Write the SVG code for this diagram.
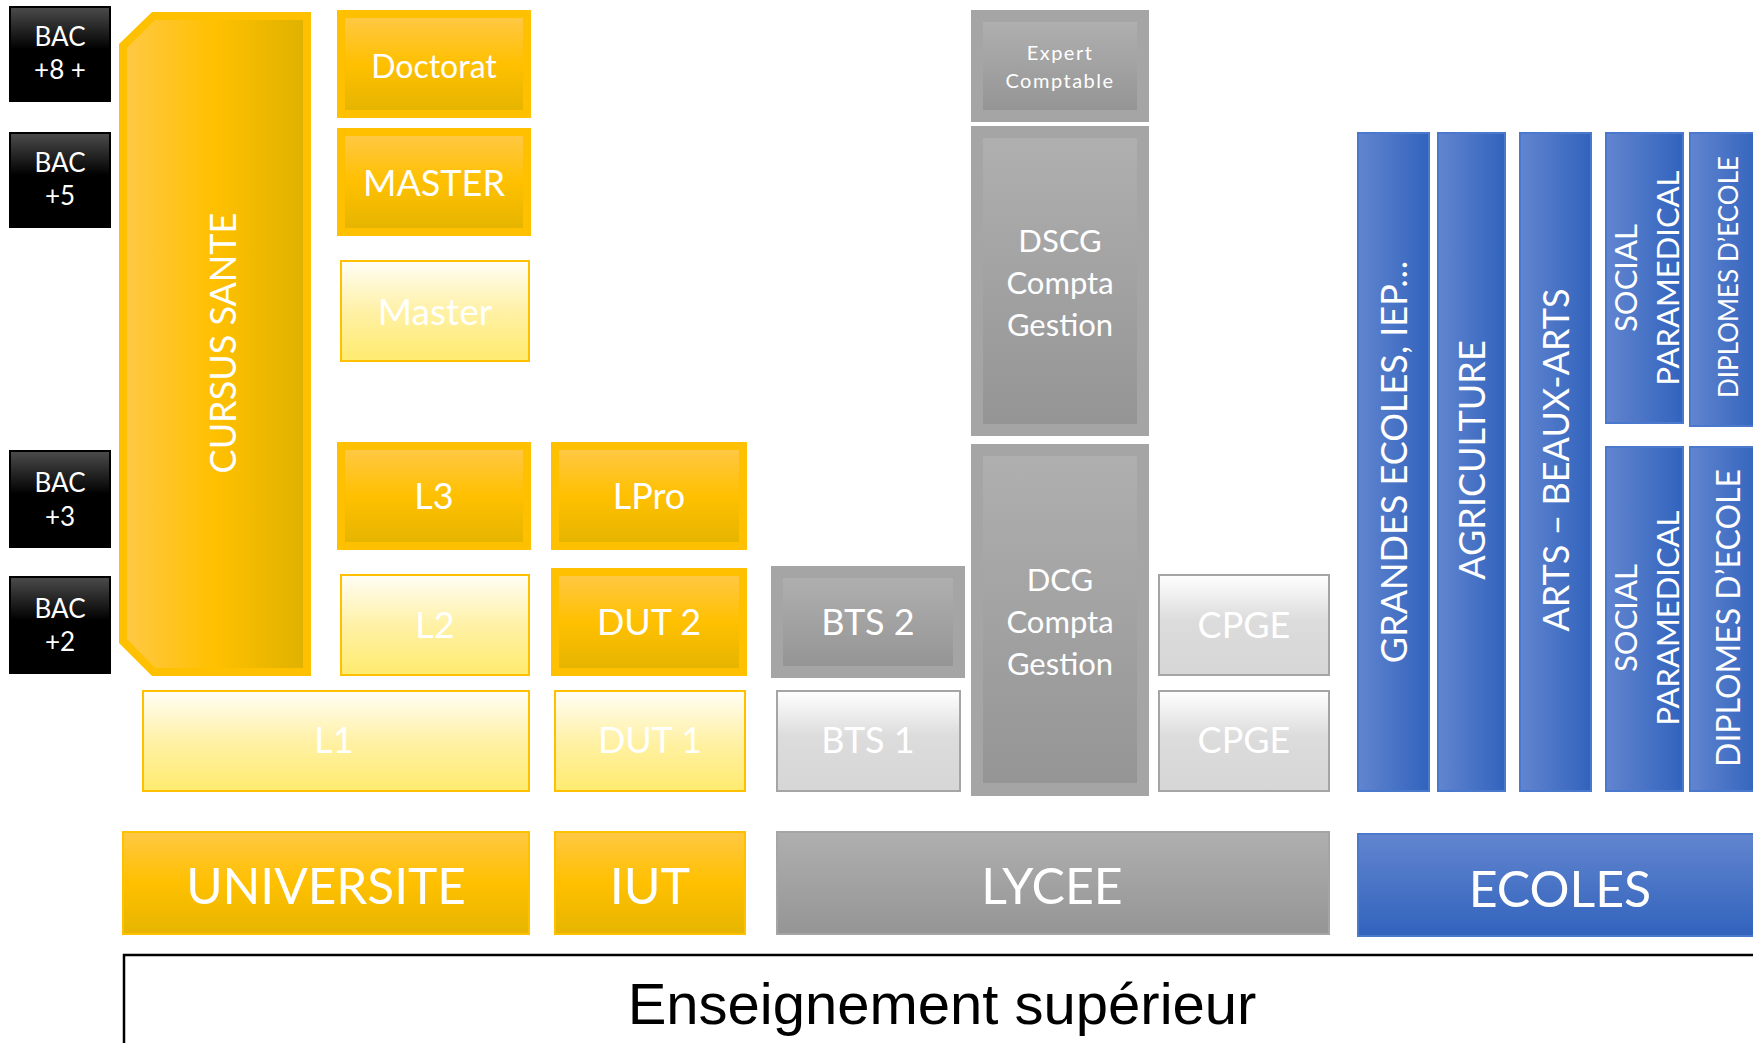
<svg xmlns="http://www.w3.org/2000/svg" width="1753" height="1043" viewBox="0 0 1753 1043">
<style>
  .lbl { font-family: Lato, "Open Sans", "DejaVu Sans", sans-serif; fill: #ffffff; text-anchor: middle; }
  .bac { font-size: 26px; }
  .title { font-family: "Liberation Sans", Arial, sans-serif; font-size: 58px; fill: #000000; text-anchor: middle; }
  .yOut { fill: #FFC000; }
  .yIn { fill: url(#gYellow); }
  .pale { fill: url(#gPale); stroke: #FFC000; stroke-width: 2; }
  .gOut { fill: #A5A5A5; }
  .gIn { fill: url(#gGray); }
  .lgray { fill: url(#gLight); stroke: #A5A5A5; stroke-width: 2; }
  .blue { fill: url(#gBlueH); stroke: #4A78CC; stroke-width: 2; }
  .bacBox { fill: #000000; }
  .bacIn { fill: url(#gBlack); }
</style>
<defs>
  <linearGradient id="gYellow" x1="0" y1="0" x2="0" y2="1">
    <stop offset="0" stop-color="#FFC843"/>
    <stop offset="0.5" stop-color="#FFC000"/>
    <stop offset="1" stop-color="#E6B500"/>
  </linearGradient>
  <linearGradient id="gYellowH" x1="0" y1="0" x2="1" y2="0">
    <stop offset="0" stop-color="#FFC843"/>
    <stop offset="0.5" stop-color="#FFC000"/>
    <stop offset="1" stop-color="#E0B200"/>
  </linearGradient>
  <linearGradient id="gPale" x1="0" y1="0" x2="0" y2="1">
    <stop offset="0" stop-color="#FFFEF6"/>
    <stop offset="0.5" stop-color="#FFF1A6"/>
    <stop offset="1" stop-color="#FFEB6E"/>
  </linearGradient>
  <linearGradient id="gGray" x1="0" y1="0" x2="0" y2="1">
    <stop offset="0" stop-color="#AFAFAF"/>
    <stop offset="1" stop-color="#959595"/>
  </linearGradient>
  <linearGradient id="gLight" x1="0" y1="0" x2="0" y2="1">
    <stop offset="0" stop-color="#FFFFFF"/>
    <stop offset="0.45" stop-color="#DCDCDC"/>
    <stop offset="1" stop-color="#D6D6D6"/>
  </linearGradient>
  <linearGradient id="gBlueH" x1="0" y1="0" x2="1" y2="0">
    <stop offset="0" stop-color="#6285CF"/>
    <stop offset="1" stop-color="#3163BD"/>
  </linearGradient>
  <linearGradient id="gBlueV" x1="0" y1="0" x2="0" y2="1">
    <stop offset="0" stop-color="#6285CF"/>
    <stop offset="1" stop-color="#3163BD"/>
  </linearGradient>
  <linearGradient id="gBlack" x1="0" y1="0" x2="0" y2="1">
    <stop offset="0" stop-color="#4A4A4A"/>
    <stop offset="0.45" stop-color="#000000"/>
    <stop offset="1" stop-color="#000000"/>
  </linearGradient>
</defs>

<!-- level markers -->
<g id="bac8">
  <rect class="bacBox" x="9" y="6" width="102" height="96"/>
  <rect class="bacIn" x="11" y="8" width="98" height="92"/>
  <text class="lbl bac" x="60" y="46">BAC</text>
  <text class="lbl bac" x="60" y="79">+8 +</text>
</g>
<g id="bac5">
  <rect class="bacBox" x="9" y="132" width="102" height="96"/>
  <rect class="bacIn" x="11" y="134" width="98" height="92"/>
  <text class="lbl bac" x="60" y="172">BAC</text>
  <text class="lbl bac" x="60" y="205">+5</text>
</g>
<g id="bac3">
  <rect class="bacBox" x="9" y="450" width="102" height="98"/>
  <rect class="bacIn" x="11" y="452" width="98" height="94"/>
  <text class="lbl bac" x="60" y="492">BAC</text>
  <text class="lbl bac" x="60" y="526">+3</text>
</g>
<g id="bac2">
  <rect class="bacBox" x="9" y="576" width="102" height="98"/>
  <rect class="bacIn" x="11" y="578" width="98" height="94"/>
  <text class="lbl bac" x="60" y="618">BAC</text>
  <text class="lbl bac" x="60" y="651">+2</text>
</g>

<!-- university column -->
<g id="cursus-sante">
  <path class="yOut" d="M152,12 H311 V676 H152 L119,643 V44 Z"/>
  <path fill="url(#gYellowH)" d="M155,20 H303 V668 H155 L127,639 V48 Z"/>
  <text class="lbl" font-size="36" transform="translate(236,343) rotate(-90)">CURSUS SANTE</text>
</g>
<g id="doctorat">
  <rect class="yOut" x="337" y="10" width="194" height="108"/>
  <rect class="yIn" x="345" y="18" width="178" height="92"/>
  <text class="lbl" font-size="32" x="434" y="78">Doctorat</text>
</g>
<g id="master-recherche">
  <rect class="yOut" x="337" y="128" width="194" height="108"/>
  <rect class="yIn" x="345" y="136" width="178" height="92"/>
  <text class="lbl" font-size="36" x="434" y="196">MASTER</text>
</g>
<g id="master">
  <rect class="pale" x="341" y="261" width="188" height="100"/>
  <text class="lbl" font-size="37" x="435" y="325">Master</text>
</g>
<g id="l3">
  <rect class="yOut" x="337" y="442" width="194" height="108"/>
  <rect class="yIn" x="345" y="450" width="178" height="92"/>
  <text class="lbl" font-size="36" x="434" y="509">L3</text>
</g>
<g id="l2">
  <rect class="pale" x="341" y="575" width="188" height="100"/>
  <text class="lbl" font-size="36" x="435" y="638">L2</text>
</g>
<g id="l1">
  <rect class="pale" x="143" y="691" width="386" height="100"/>
  <text class="lbl" font-size="36" x="334" y="753">L1</text>
</g>

<!-- IUT column -->
<g id="lpro">
  <rect class="yOut" x="551" y="442" width="196" height="108"/>
  <rect class="yIn" x="559" y="450" width="180" height="92"/>
  <text class="lbl" font-size="36" x="649" y="509">LPro</text>
</g>
<g id="dut2">
  <rect class="yOut" x="551" y="568" width="196" height="108"/>
  <rect class="yIn" x="559" y="576" width="180" height="92"/>
  <text class="lbl" font-size="36" x="649" y="635">DUT 2</text>
</g>
<g id="dut1">
  <rect class="pale" x="555" y="691" width="190" height="100"/>
  <text class="lbl" font-size="36" x="650" y="753">DUT 1</text>
</g>

<!-- lycée column -->
<g id="bts2">
  <rect class="gOut" x="771" y="566" width="194" height="112"/>
  <rect class="gIn" x="783" y="578" width="170" height="88"/>
  <text class="lbl" font-size="36" x="868" y="635">BTS 2</text>
</g>
<g id="bts1">
  <rect class="lgray" x="777" y="691" width="183" height="100"/>
  <text class="lbl" font-size="36" x="868" y="753">BTS 1</text>
</g>
<g id="expert-comptable">
  <rect class="gOut" x="971" y="10" width="178" height="112"/>
  <rect class="gIn" x="983" y="22" width="154" height="88"/>
  <text class="lbl" font-size="20" letter-spacing="1.5" x="1060" y="60">Expert</text>
  <text class="lbl" font-size="20" letter-spacing="1.5" x="1060" y="88">Comptable</text>
</g>
<g id="dscg">
  <rect class="gOut" x="971" y="126" width="178" height="310"/>
  <rect class="gIn" x="983" y="138" width="154" height="286"/>
  <text class="lbl" font-size="31" x="1060" y="252">DSCG</text>
  <text class="lbl" font-size="31" x="1060" y="294">Compta</text>
  <text class="lbl" font-size="31" x="1060" y="336">Gestion</text>
</g>
<g id="dcg">
  <rect class="gOut" x="971" y="444" width="178" height="352"/>
  <rect class="gIn" x="983" y="456" width="154" height="327"/>
  <text class="lbl" font-size="31" x="1060" y="591">DCG</text>
  <text class="lbl" font-size="31" x="1060" y="633">Compta</text>
  <text class="lbl" font-size="31" x="1060" y="675">Gestion</text>
</g>
<g id="cpge2">
  <rect class="lgray" x="1159" y="575" width="170" height="100"/>
  <text class="lbl" font-size="36" x="1244" y="638">CPGE</text>
</g>
<g id="cpge1">
  <rect class="lgray" x="1159" y="691" width="170" height="100"/>
  <text class="lbl" font-size="36" x="1244" y="753">CPGE</text>
</g>

<!-- schools column -->
<g id="grandes-ecoles">
  <rect class="blue" x="1358" y="133" width="71" height="658"/>
  <text class="lbl" font-size="36" transform="translate(1407,462) rotate(-90)">GRANDES ECOLES, IEP…</text>
</g>
<g id="agriculture">
  <rect class="blue" x="1438" y="133" width="67" height="658"/>
  <text class="lbl" font-size="36" transform="translate(1485,460) rotate(-90)">AGRICULTURE</text>
</g>
<g id="arts">
  <rect class="blue" x="1520" y="133" width="71" height="658"/>
  <text class="lbl" font-size="36" transform="translate(1569,460) rotate(-90)">ARTS – BEAUX-ARTS</text>
</g>
<g id="social-top">
  <rect class="blue" x="1606" y="133" width="77" height="290"/>
  <text class="lbl" font-size="31" transform="translate(1637,278) rotate(-90)">SOCIAL</text>
  <text class="lbl" font-size="31" transform="translate(1679,278) rotate(-90)">PARAMEDICAL</text>
</g>
<g id="diplomes-top">
  <rect class="blue" x="1690" y="133" width="70" height="293"/>
  <text class="lbl" font-size="26" transform="translate(1738,277) rotate(-90)">DIPLOMES D’ECOLE</text>
</g>
<g id="social-bottom">
  <rect class="blue" x="1606" y="447" width="77" height="344"/>
  <text class="lbl" font-size="31" transform="translate(1637,618) rotate(-90)">SOCIAL</text>
  <text class="lbl" font-size="31" transform="translate(1679,618) rotate(-90)">PARAMEDICAL</text>
</g>
<g id="diplomes-bottom">
  <rect class="blue" x="1690" y="447" width="70" height="344"/>
  <text class="lbl" font-size="32" transform="translate(1740,618) rotate(-90)">DIPLOMES D’ECOLE</text>
</g>

<!-- institution headers -->
<g id="universite">
  <rect x="123" y="832" width="406" height="102" fill="url(#gYellow)" stroke="#FFC000" stroke-width="2"/>
  <text class="lbl" font-size="49.5" x="326" y="904">UNIVERSITE</text>
</g>
<g id="iut">
  <rect x="555" y="832" width="190" height="102" fill="url(#gYellow)" stroke="#FFC000" stroke-width="2"/>
  <text class="lbl" font-size="50" x="650" y="904">IUT</text>
</g>
<g id="lycee">
  <rect x="777" y="832" width="552" height="102" fill="url(#gGray)" stroke="#A5A5A5" stroke-width="2"/>
  <text class="lbl" font-size="50" x="1052" y="904">LYCEE</text>
</g>
<g id="ecoles">
  <rect x="1358" y="834" width="402" height="102" fill="url(#gBlueV)" stroke="#4A78CC" stroke-width="2"/>
  <text class="lbl" font-size="50" x="1560" y="907">ECOLES</text>
</g>

<!-- footer band -->
<g id="enseignement-superieur">
  <rect x="124" y="955" width="1700" height="200" fill="none" stroke="#000000" stroke-width="2.5"/>
  <text class="title" x="942" y="1024">Enseignement supérieur</text>
</g>

<g id="connectors"></g>
</svg>
